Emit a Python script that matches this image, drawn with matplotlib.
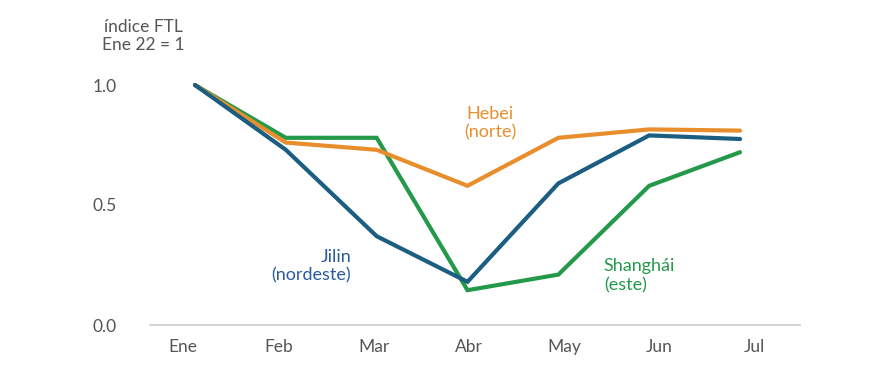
import matplotlib
matplotlib.use('Agg')
import matplotlib.pyplot as plt

# data
meses = ['Ene', 'Feb', 'Mar', 'Abr', 'May', 'Jun', 'Jul']
hebei = [1.0, 0.76, 0.73, 0.58, 0.78, 0.815, 0.81]
jilin = [1.0, 0.73, 0.37, 0.18, 0.59, 0.79, 0.775]
shanghai = [1.0, 0.78, 0.78, 0.145, 0.21, 0.58, 0.72]

c_orange = '#E88E2D'
c_blue = '#1B5E82'
c_green = '#24994A'
c_text = '#555555'

plt.rcParams['font.family'] = ['Lato', 'DejaVu Sans']

fig = plt.figure(figsize=(8.7, 3.71), dpi=100)
ax = fig.add_axes([150/870, 1-325/371, 650/870, 264/371])

x = list(range(len(meses)))
ax.plot(x, shanghai, color=c_green, lw=3, solid_capstyle='round', solid_joinstyle='miter')
ax.plot(x, hebei, color=c_orange, lw=3, solid_capstyle='round', solid_joinstyle='miter')
ax.plot(x, jilin, color=c_blue, lw=3, solid_capstyle='round', solid_joinstyle='miter')

ax.set_xlim(-0.495, 6.66)
ax.set_ylim(0, 1.1)
ax.set_yticks([0, 0.5, 1.0])
ax.set_yticklabels(['0.0', '0.5', '1.0'])
# month labels in the original sit on a slightly wider grid than the data points
ax.set_xticks([-0.132 + 1.049 * i for i in x])
ax.set_xticklabels(meses)
ax.tick_params(axis='both', length=0, labelsize=12.5, labelcolor=c_text)
ax.tick_params(axis='x', pad=10)
ax.tick_params(axis='y', pad=24)

for s in ['top', 'right', 'left']:
    ax.spines[s].set_visible(False)
ax.spines['bottom'].set_color('#cccccc')
ax.spines['bottom'].set_linewidth(1.2)

ax.text(3.25, 0.84, 'Hebei\n(norte)', color=c_orange, fontsize=13, ha='center', va='center', linespacing=1.2)
ax.text(1.72, 0.245, 'Jilin\n(nordeste)', color='#2A5BA0', fontsize=13, ha='right', va='center', linespacing=1.2)
ax.text(4.5, 0.205, 'Shanghái\n(este)', color=c_green, fontsize=13, ha='left', va='center', linespacing=1.2)

fig.text(143/870, 1-36/371, 'índice FTL\nEne 22 = 1', color=c_text, fontsize=12.5,
         ha='center', va='center', linespacing=1.2)

fig.savefig('out.png', dpi=100)
